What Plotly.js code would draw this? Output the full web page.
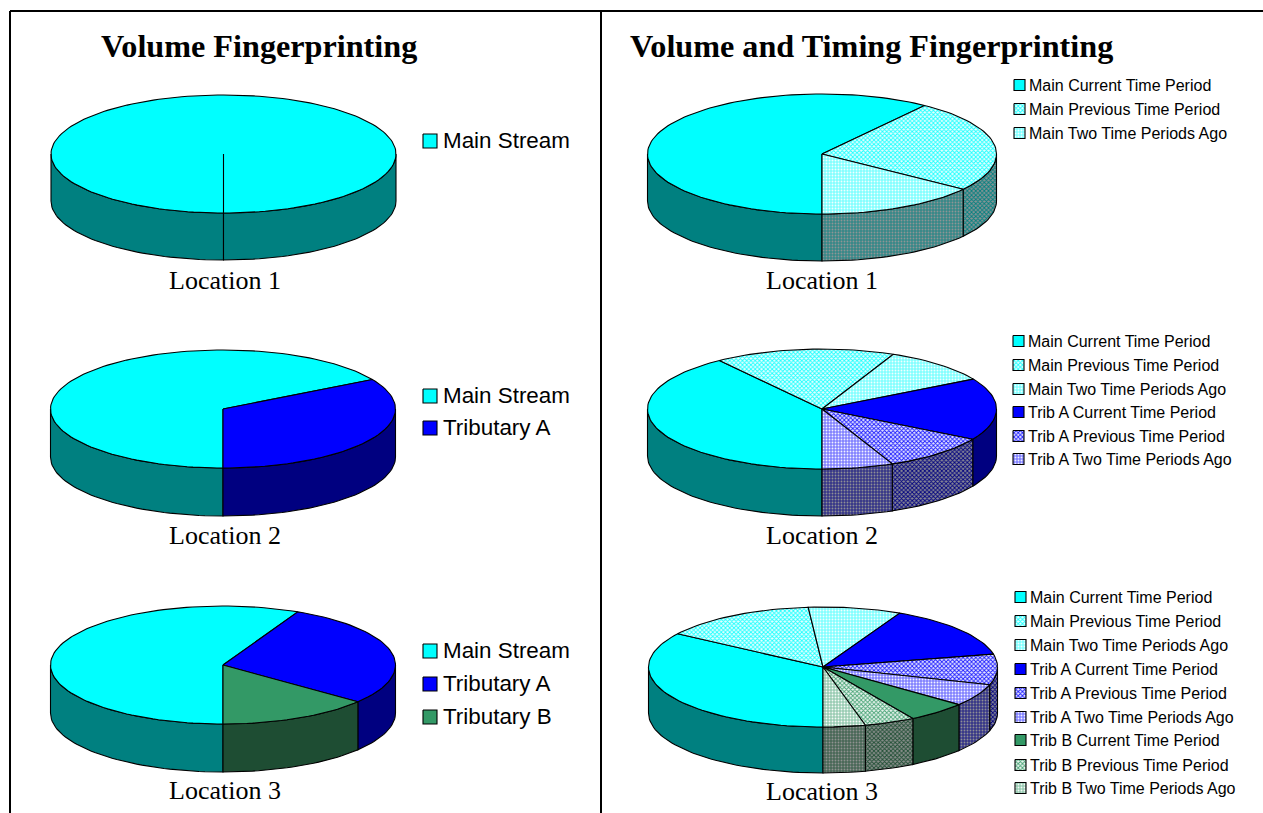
<!DOCTYPE html>
<html>
<head>
<meta charset="utf-8">
<script src="https://cdn.plot.ly/plotly-3.0.1.min.js"></script>
<style>html,body{margin:0;padding:0;background:#fff;overflow:hidden}</style>
</head>
<body>
<div id="chart" style="width:1263px;height:813px"></div>
<script>
// ---------- data ----------
const volumeCategories1 = ["Main Stream"];
const volumeValues1 = [1];
const volumeCategories2 = ["Main Stream", "Tributary A"];
const volumeValues2 = [2, 1];
const volumeCategories3 = ["Main Stream", "Tributary A", "Tributary B"];
const volumeValues3 = [4, 2, 1];

const timingCategories1 = ["Main Current Time Period", "Main Previous Time Period", "Main Two Time Periods Ago"];
const timingValues1 = [60, 25, 15];
const timingCategories2 = timingCategories1.concat(["Trib A Current Time Period", "Trib A Previous Time Period", "Trib A Two Time Periods Ago"]);
const timingValues2 = [40, 16.7, 10, 16.7, 10, 6.6];
const timingCategories3 = timingCategories2.concat(["Trib B Current Time Period", "Trib B Previous Time Period", "Trib B Two Time Periods Ago"]);
const timingValues3 = [34.3, 14.3, 8.6, 14.3, 8.2, 6, 5.6, 4.7, 3.9];

const panelTitles = ["Volume Fingerprinting", "Volume and Timing Fingerprinting"];
const pieLabels = ["Location 1", "Location 2", "Location 3"];

// ---------- styles ----------
const CYAN = [0, 255, 255], BLUE = [0, 0, 255], GREEN = [51, 153, 102];
const TEAL = [0, 128, 128], NAVY = [0, 0, 128], DGREEN = [30, 77, 51];
const WHITE = [255, 255, 255], GREY = [150, 150, 150];
function mix(a, b, t) { return "rgb(" + a.map((v, i) => Math.round(v + (b[i] - v) * t)).join(",") + ")"; }
function solid(top, wall) { return { top: { color: mix(top, top, 0) }, wall: { color: mix(wall, wall, 0) } }; }
function prev(top, wall) {
  return { top: { color: mix(top, top, 0), pattern: { shape: "x", fgcolor: mix(top, WHITE, 0.1), bgcolor: mix(top, WHITE, 0.9), size: 3, solidity: 0.5 } },
           wall: { color: mix(wall, wall, 0), pattern: { shape: "x", fgcolor: mix(wall, wall, 0), bgcolor: mix(wall, GREY, 0.9), size: 3, solidity: 0.5 } } };
}
function ago(top, wall) {
  return { top: { color: mix(top, top, 0), pattern: { shape: ".", fgcolor: mix(top, WHITE, 0.95), bgcolor: mix(top, WHITE, 0.5), size: 3, solidity: 0.3 } },
           wall: { color: mix(wall, wall, 0), pattern: { shape: ".", fgcolor: mix(wall, GREY, 0.95), bgcolor: mix(wall, GREY, 0.35), size: 3, solidity: 0.3 } } };
}
const volumeStyles = [solid(CYAN, TEAL), solid(BLUE, NAVY), solid(GREEN, DGREEN)];
const timingStyles = [
  solid(CYAN, TEAL), prev(CYAN, TEAL), ago(CYAN, TEAL),
  solid(BLUE, NAVY), prev(BLUE, NAVY), ago(BLUE, NAVY),
  solid(GREEN, DGREEN), prev(GREEN, DGREEN), ago(GREEN, DGREEN)
];

// ---------- layout of the page (pixel scale of the axes) ----------
const panels = [
  { cats: volumeCategories1, vals: volumeValues1, styles: volumeStyles, cx: 223.5, cy: 154, rx: 172.5, ry: 59, d: 47, lab: [225, 280],
    sw: 14, swX: 423, txtX: 443, fs: 22.4, up: 1, rows: [141] },
  { cats: volumeCategories2, vals: volumeValues2, styles: volumeStyles, cx: 223, cy: 409, rx: 172.5, ry: 59, d: 48, lab: [225, 535],
    sw: 14, swX: 423, txtX: 443, fs: 22.4, up: 1, rows: [396, 428] },
  { cats: volumeCategories3, vals: volumeValues3, styles: volumeStyles, cx: 223, cy: 665, rx: 172.5, ry: 59, d: 48, lab: [225, 790],
    sw: 14, swX: 423, txtX: 443, fs: 22.4, up: 1, rows: [651, 684, 717] },
  { cats: timingCategories1, vals: timingValues1, styles: timingStyles, cx: 822, cy: 154, rx: 174.5, ry: 60, d: 47, lab: [822, 280],
    sw: 11, swX: 1014, txtX: 1029, fs: 16, up: 0, rows: [85, 109, 133] },
  { cats: timingCategories2, vals: timingValues2, styles: timingStyles, cx: 822, cy: 409, rx: 174.5, ry: 60, d: 47, lab: [822, 535],
    sw: 11, swX: 1013, txtX: 1028, fs: 16, up: 0, rows: [341, 365, 389, 412, 436, 459] },
  { cats: timingCategories3, vals: timingValues3, styles: timingStyles, cx: 823, cy: 667, rx: 174.5, ry: 60, d: 46, lab: [822, 791],
    sw: 11, swX: 1015, txtX: 1030, fs: 16, up: 0, rows: [597, 621, 645, 669, 693, 717, 740, 765, 788] }
];

// ---------- geometry helpers: all built from the values ----------
const STEP = 2;
function arc(p, a0, a1, dy) {            // angles clockwise from the bottom of the pie, degrees
  const xs = [], ys = [];
  const n = Math.max(1, Math.ceil(Math.abs(a1 - a0) / STEP));
  for (let i = 0; i <= n; i++) {
    const t = (a0 + (a1 - a0) * i / n) * Math.PI / 180;
    xs.push(p.cx - p.rx * Math.sin(t));
    ys.push(p.cy + dy + p.ry * Math.cos(t));
  }
  return [xs, ys];
}
function poly(x, y, style, name) {
  const t = { type: "scatter", mode: "lines", x, y, fill: "toself", fillcolor: style.color, name,
    line: { color: "#000000", width: 1.1 }, showlegend: false, hoverinfo: "name" };
  if (style.pattern) t.fillpattern = style.pattern;
  return t;
}

const traces = [], annotations = [];
panels.forEach((p) => {
  const total = p.vals.reduce((a, b) => a + b, 0);
  let start = 0;
  const slices = p.vals.map((v, i) => {
    const s = { a0: start, a1: start + v / total * 360, i };
    start = s.a1;
    return s;
  });
  // side walls: only the front half of the rim is visible
  [[0, 90], [270, 360]].forEach(([lo, hi]) => {
    slices.forEach((s) => {
      const a0 = Math.max(s.a0, lo), a1 = Math.min(s.a1, hi);
      if (a1 <= a0) return;
      const [x0, y0] = arc(p, a0, a1, 0);
      const [x1, y1] = arc(p, a1, a0, p.d);
      traces.push(poly(x0.concat(x1, [x0[0]]), y0.concat(y1, [y0[0]]), p.styles[s.i].wall, p.cats[s.i]));
    });
  });
  // top faces
  slices.forEach((s) => {
    const [x, y] = arc(p, s.a0, s.a1, 0);
    traces.push(poly([p.cx].concat(x, [p.cx]), [p.cy].concat(y, [p.cy]), p.styles[s.i].top, p.cats[s.i]));
  });
  // legend rows
  p.cats.forEach((c, i) => {
    const y = p.rows[i], h = p.sw / 2;
    traces.push(poly([p.swX, p.swX + p.sw, p.swX + p.sw, p.swX, p.swX],
                     [y - h, y - h, y + h, y + h, y - h], p.styles[i].top, c));
    annotations.push({ x: p.txtX, y, xref: "x", yref: "y", text: c, showarrow: false, xanchor: "left", yanchor: "middle",
      xshift: -1, yshift: p.up, font: { family: "Liberation Sans, Arial, sans-serif", size: p.fs, color: "#000000" }, borderpad: 0 });
  });
});

// pie captions
panels.forEach((p, i) => annotations.push({
  x: p.lab[0], y: p.lab[1], xref: "x", yref: "y", text: pieLabels[i % 3], showarrow: false, xanchor: "center", yanchor: "middle",
  font: { family: "Liberation Serif, Times New Roman, serif", size: 26, color: "#000000" }
}));
// panel headings
[[259, 46], [871, 46]].forEach(([x, y], i) => annotations.push({
  x, y, xref: "x", yref: "y", text: "<b>" + panelTitles[i] + "</b>", showarrow: false, xanchor: "center", yanchor: "middle",
  font: { family: "Liberation Serif, Times New Roman, serif", size: 32.2, color: "#000000" }
}));

const frame = { color: "#000000", width: 2 };
const layout = {
  width: 1263, height: 813, autosize: false,
  margin: { l: 0, r: 0, t: 0, b: 0 },
  paper_bgcolor: "#FFFFFF", plot_bgcolor: "#FFFFFF",
  showlegend: false,
  xaxis: { range: [0, 1263], visible: false, fixedrange: true },
  yaxis: { range: [813, 0], visible: false, fixedrange: true },
  annotations,
  shapes: [
    { type: "line", xref: "x", yref: "y", x0: 10, x1: 1263, y0: 11, y1: 11, line: frame },
    { type: "line", xref: "x", yref: "y", x0: 10, x1: 10, y0: 11, y1: 813, line: frame },
    { type: "line", xref: "x", yref: "y", x0: 601, x1: 601, y0: 11, y1: 813, line: frame }
  ]
};
Plotly.newPlot("chart", traces, layout, { displayModeBar: false, staticPlot: true });
</script>
</body>
</html>
